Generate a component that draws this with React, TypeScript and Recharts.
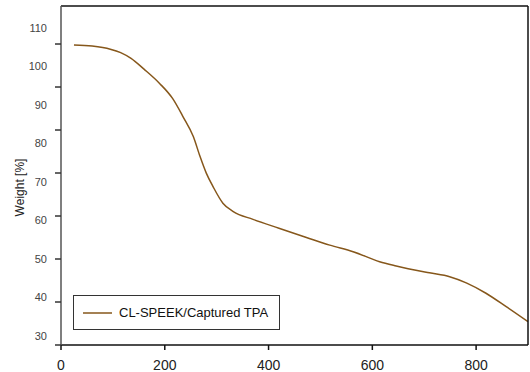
import React from "react";
import { LineChart, Line, XAxis, YAxis } from "recharts";

const temperatures = [25, 60, 95, 115, 135, 160, 190, 215, 235, 255, 268, 280, 293, 312, 332, 370, 420, 473, 518, 563, 614, 646, 710, 749, 781, 819, 858, 900];
const weights = [105.6, 105.3, 104.5, 103.6, 102.1, 99.3, 95.6, 91.7, 87.0, 81.8, 76.6, 72.3, 68.8, 64.5, 62.3, 60.3, 58.0, 55.6, 53.6, 51.9, 49.3, 48.2, 46.4, 45.4, 43.8, 41.1, 37.6, 33.7];
const xTicks = [0, 200, 400, 600, 800];
const yTicks = [30, 40, 50, 60, 70, 80, 90, 100, 110];
const tickMarkSteps = [0, 1, 2, 3, 4, 5, 6, 7];
const seriesName = "CL-SPEEK/Captured TPA";
const yLabel = "Weight [%]";

const data = temperatures.map((t, i) => ({ t, w: weights[i] }));

const Y_MIN = 27.66;
const Y_MAX = 115.71;
const LINE_COLOR = "#86571b";
const FONT = "Arial, 'Liberation Sans', sans-serif";

const YLabel = (props: any) => {
  const vb = props.viewBox || {};
  const cx = vb.x + 20;
  const cy = vb.y + vb.height / 2 + 12;
  return (
    <text
      x={cx}
      y={cy}
      transform={`rotate(-90, ${cx}, ${cy})`}
      textAnchor="middle"
      dominantBaseline="central"
      fontFamily={FONT}
      fontSize={12}
      fill="#222"
    >
      {yLabel}
    </text>
  );
};

const EmptyTick = () => <g />;

export default function App() {
  return (
    <div style={{ position: "absolute", left: 0, top: 0, width: 530, height: 372, background: "#fff" }}>
      <LineChart
        width={530}
        height={372}
        data={data}
        margin={{ top: 5, right: 1, left: 0, bottom: 0 }}
      >
        <XAxis
          dataKey="t"
          type="number"
          domain={[0, 900]}
          ticks={xTicks}
          allowDataOverflow
          height={27}
          stroke="#111"
          strokeWidth={1.5}
          tickSize={5}
          tickMargin={10}
          tick={{ fill: "#222", fontSize: 14, fontFamily: FONT }}
        />
        <XAxis
          xAxisId="top"
          orientation="top"
          type="number"
          domain={[0, 900]}
          ticks={[0]}
          height={1}
          tick={false}
          tickLine={false}
          stroke="#111"
          strokeWidth={1.5}
        />
        <YAxis
          yAxisId="w"
          type="number"
          domain={[Y_MIN, Y_MAX]}
          ticks={yTicks}
          allowDataOverflow
          width={61}
          stroke="#555"
          strokeWidth={1.5}
          tickLine={false}
          tickSize={6}
          tickMargin={8}
          tick={{ fill: "#444", fontSize: 11, fontFamily: "'Liberation Sans Narrow', 'Arial Narrow', Arial, sans-serif" }}
          label={<YLabel />}
        />
        <YAxis
          yAxisId="marks"
          type="number"
          domain={[0, 7.884]}
          allowDataOverflow
          ticks={tickMarkSteps}
          width={1}
          orientation="left"
          mirror
          axisLine={false}
          tick={<EmptyTick />}
          tickLine={{ stroke: "#333", strokeWidth: 1.5 }}
          tickSize={-6}
        />
        <YAxis
          yAxisId="right"
          orientation="right"
          type="number"
          domain={[0, 1]}
          ticks={[0]}
          width={1}
          tick={false}
          tickLine={false}
          stroke="#111"
          strokeWidth={1.5}
        />
        <Line
          yAxisId="w"
          type="monotone"
          dataKey="w"
          name={seriesName}
          stroke={LINE_COLOR}
          strokeWidth={1.5}
          dot={false}
          isAnimationActive={false}
        />
      </LineChart>
      <div
        style={{
          position: "absolute",
          left: 73,
          top: 295,
          boxSizing: "border-box",
          width: 207,
          height: 35,
          border: "1.5px solid #333",
          display: "flex",
          alignItems: "center",
          fontFamily: FONT,
          fontSize: 13,
          whiteSpace: "nowrap",
          color: "#111",
          background: "#fff",
        }}
      >
        <svg width={45} height={10} style={{ flex: "none" }}>
          <line x1={9} y1={5} x2={38} y2={5} stroke={LINE_COLOR} strokeWidth={1.5} />
        </svg>
        <span>{seriesName}</span>
      </div>
    </div>
  );
}
